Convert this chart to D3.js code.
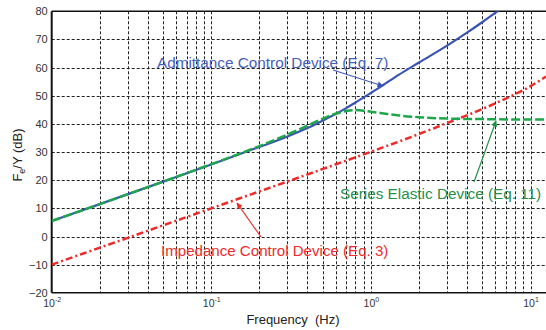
<!DOCTYPE html>
<html>
<head>
<meta charset="utf-8">
<script src="https://cdnjs.cloudflare.com/ajax/libs/d3/7.8.5/d3.min.js"></script>
<style>
  body { margin: 0; background: #fff; }
  text { font-family: Arial, "Liberation Sans", sans-serif; }
</style>
</head>
<body>
<script>
var width = 546, height = 330

// values (frequency in Hz, magnitude in dB)
var admittanceFreq = [0.01, 0.02, 0.05, 0.1, 0.2, 0.3, 0.4, 0.5, 0.6, 0.7, 0.8, 1.0, 1.2, 1.5, 2.0, 3.0, 4.0, 5.0, 6.2, 7.0]
var admittanceDb   = [5.5, 11.5, 19.5, 25.6, 31.8, 35.5, 38.5, 41.2, 43.5, 45.6, 47.6, 51.0, 53.9, 57.5, 61.8, 67.8, 72.4, 76.2, 80.0, 82.1]

var seriesFreq = [0.01, 0.02, 0.05, 0.1, 0.2, 0.3, 0.4, 0.5, 0.6, 0.7, 0.8, 0.9, 1.0, 1.2, 1.5, 2.0, 3.0, 5.0, 8.0, 12.5]
var seriesDb   = [5.5, 11.5, 19.5, 25.7, 32.1, 36.2, 39.4, 41.9, 43.6, 44.6, 44.9, 44.7, 44.3, 43.7, 43.0, 42.4, 41.9, 41.7, 41.6, 41.6]

var impedanceFreq = [0.01, 0.1, 0.5, 1.0, 2.0, 3.0, 5.0, 7.0, 10.0, 12.5]
var impedanceDb   = [-10, 10, 24, 30.1, 36.4, 40.3, 45.3, 49.0, 53.4, 56.8]

var xTickLabels = [0.01, 0.1, 1, 10]
var xTickExp = ["-2", "-1", "0", "1"]
var yTickLabels = [-20, -10, 0, 10, 20, 30, 40, 50, 60, 70, 80]

var pLeft = 51.7, pRight = 546, pTop = 11.3, pBottom = 292.8

var svg = d3.select("body")
    .append("svg")
    .attr("width", width)
    .attr("height", height);

var x = d3.scaleLog().domain([0.01, 12.5]).range([pLeft, pRight]);
var y = d3.scaleLinear().domain([-20, 80]).range([pBottom, pTop]);

svg.append("defs").append("clipPath").attr("id", "plot")
  .append("rect").attr("x", pLeft).attr("y", pTop).attr("width", pRight - pLeft).attr("height", pBottom - pTop);

// grid
var grid = svg.append("g").attr("class", "grid");
grid.selectAll("line.v")
    .data(x.ticks().filter(function(d){ return x(d) > pLeft + 1; }))
  .enter().append("line")
    .attr("class", "v")
    .attr("x1", function(d){ return Math.round(x(d)) + 0.5; })
    .attr("x2", function(d){ return Math.round(x(d)) + 0.5; })
    .attr("y1", pTop).attr("y2", pBottom)
    .attr("stroke", "#222").attr("stroke-width", 1).attr("stroke-dasharray", "3,2");
grid.selectAll("line.h")
    .data(yTickLabels.filter(function(d){ return d > -20 && d < 80; }))
  .enter().append("line")
    .attr("class", "h")
    .attr("x1", pLeft).attr("x2", pRight)
    .attr("y1", function(d){ return Math.round(y(d)) + 0.5; })
    .attr("y2", function(d){ return Math.round(y(d)) + 0.5; })
    .attr("stroke", "#222").attr("stroke-width", 1).attr("stroke-dasharray", "3,2");

// axis frame
svg.append("line").attr("x1", pLeft).attr("x2", pRight).attr("y1", pTop).attr("y2", pTop)
  .attr("stroke", "#111").attr("stroke-width", 1.5);
svg.append("line").attr("x1", pLeft).attr("x2", pRight).attr("y1", pBottom).attr("y2", pBottom)
  .attr("stroke", "#111").attr("stroke-width", 1.5);
svg.append("line").attr("x1", pLeft).attr("x2", pLeft).attr("y1", pTop).attr("y2", pBottom)
  .attr("stroke", "#111").attr("stroke-width", 2);

// y axis labels
var yAxis = svg.append("g")
    .attr("transform", "translate(" + pLeft + ",0)")
    .call(d3.axisLeft(y).tickValues(yTickLabels).tickSize(0).tickPadding(4));
yAxis.select(".domain").remove();
yAxis.selectAll("text").attr("font-size", 11).attr("fill", "#333")
    .attr("font-family", "Arial, 'Liberation Sans', sans-serif");

// x axis labels with superscripts
var xAxis = svg.append("g")
    .attr("transform", "translate(0," + pBottom + ")")
    .call(d3.axisBottom(x).tickValues(xTickLabels).tickSize(0).tickPadding(0).tickFormat(function(){ return ""; }));
xAxis.select(".domain").remove();
xAxis.selectAll(".tick text").each(function(d, i){
  var t = d3.select(this).attr("y", 14).attr("dy", 0).attr("font-size", 10.5).attr("fill", "#333")
      .attr("font-family", "Arial, 'Liberation Sans', sans-serif")
      .attr("text-anchor", "middle");
  t.append("tspan").text("10");
  t.append("tspan").attr("font-size", 7).attr("dy", -5).text(xTickExp[i]);
});

svg.append("text")
    .attr("x", 293).attr("y", 324)
    .attr("text-anchor", "middle").attr("font-size", 13).attr("fill", "#222")
    .attr("xml:space", "preserve")
    .text("Frequency  (Hz)");

var yl = svg.append("text")
    .attr("transform", "translate(22,155) rotate(-90)")
    .attr("text-anchor", "middle").attr("font-size", 13).attr("fill", "#222");
yl.append("tspan").text("F");
yl.append("tspan").attr("font-size", 9).attr("dy", 3).text("e");
yl.append("tspan").attr("dy", -3).text("/Y (dB)");

// curves
var line = d3.line()
    .x(function(d){ return x(d[0]); })
    .y(function(d){ return y(d[1]); })
    .curve(d3.curveMonotoneX);

var curves = svg.append("g").attr("clip-path", "url(#plot)");

curves.append("path")
    .datum(d3.zip(impedanceFreq, impedanceDb))
    .attr("d", line).attr("fill", "none")
    .attr("stroke", "#ee2b2b").attr("stroke-width", 2.5).attr("stroke-dasharray", "7,3,2,3");

curves.append("path")
    .datum(d3.zip(admittanceFreq, admittanceDb))
    .attr("d", line).attr("fill", "none")
    .attr("stroke", "#3b54b4").attr("stroke-width", 2.2);

curves.append("path")
    .datum(d3.zip(seriesFreq, seriesDb))
    .attr("d", line).attr("fill", "none")
    .attr("stroke", "#1ea64a").attr("stroke-width", 2.5).attr("stroke-dasharray", "9,3");

// annotations
var defs = svg.select("defs");
[["ab", "#3b54b4"], ["ag", "#1e8f45"], ["ar", "#ee2b2b"]].forEach(function(m){
  defs.append("marker").attr("id", m[0])
      .attr("viewBox", "0 0 10 10").attr("refX", 9).attr("refY", 5)
      .attr("markerWidth", 7).attr("markerHeight", 6).attr("orient", "auto")
      .attr("markerUnits", "userSpaceOnUse")
    .append("path").attr("d", "M0,0L10,5L0,10z").attr("fill", m[1]);
});

var notes = [
  {text: "Admittance Control Device (Eq. 7)", color: "#4560bb", tx: 157, ty: 68, size: 15.3, x1: 333, y1: 70, x2: 383, y2: 86, m: "ab"},
  {text: "Series Elastic Device (Eq. 11)", color: "#26904a", tx: 340, ty: 199, size: 15.3, x1: 474, y1: 182, x2: 496, y2: 121, m: "ag"},
  {text: "Impedance Control Device (Eq. 3)", color: "#ee2b2b", tx: 161, ty: 256, size: 15.1, x1: 261, y1: 237, x2: 237, y2: 203, m: "ar"}
];
notes.forEach(function(n){
  svg.append("line")
      .attr("x1", n.x1).attr("y1", n.y1).attr("x2", n.x2).attr("y2", n.y2)
      .attr("stroke", n.color).attr("stroke-width", 1.2)
      .attr("marker-end", "url(#" + n.m + ")");
  svg.append("text")
      .attr("x", n.tx).attr("y", n.ty)
      .attr("font-size", n.size).attr("fill", n.color)
      .text(n.text);
});
</script>
</body>
</html>
